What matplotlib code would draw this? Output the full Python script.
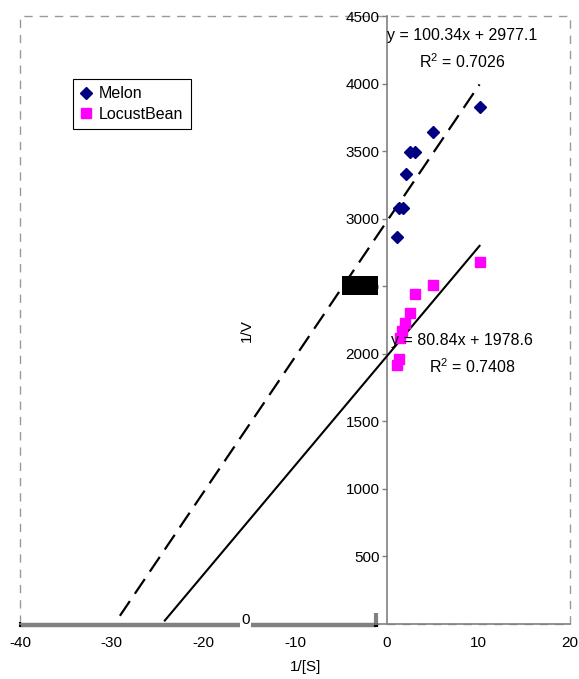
import matplotlib.pyplot as plt
from matplotlib.patches import Rectangle

plt.rcParams["font.family"] = ["Liberation Sans", "DejaVu Sans"]
plt.rcParams["mathtext.fontset"] = "custom"
plt.rcParams["mathtext.rm"] = "Liberation Sans"
plt.rcParams["axes.unicode_minus"] = False

# Lineweaver-Burk data (1/[S] vs 1/V)
melon_x = [1.14, 1.36, 1.83, 2.09, 2.55, 3.07, 5.09, 10.13]
melon_y = [2861, 3080, 3080, 3327, 3490, 3490, 3643, 3826]
locust_x = [1.17, 1.33, 1.43, 1.68, 2.04, 2.52, 3.07, 5.05, 10.13]
locust_y = [1915, 1957, 2113, 2169, 2228, 2298, 2439, 2507, 2676]

# fitted trendlines and their x range (with backward forecast)
melon_fit = (100.34, 2977.1, 0.7026)
locust_fit = (80.84, 1978.6, 0.7408)
melon_range = (-29.1, 10.13)
locust_range = (-24.2, 10.13)

x_ticks = [-40, -30, -20, -10, 0, 10, 20]
y_ticks = [500, 1000, 1500, 2000, 2500, 3000, 3500, 4000, 4500]

fig = plt.figure(figsize=(5.79, 6.79), dpi=100)
ax = fig.add_axes([0.0345, 0.0817, 0.9500, 0.8947])
ax.set_xlim(-40, 20)
ax.set_ylim(0, 4500)

grey = "#808080"
ax.spines["top"].set_visible(False)
ax.spines["right"].set_visible(False)
ax.spines["left"].set_position(("data", 0))
ax.spines["left"].set_color(grey)
ax.spines["bottom"].set_color(grey)
for s in ("left", "bottom"):
    ax.spines[s].set_linewidth(1.2)

ax.set_xticks(x_ticks)
ax.set_yticks(y_ticks)
ax.tick_params(axis="x", length=0, pad=9, labelsize=11)
ax.tick_params(axis="y", length=3.6, width=1, color=grey, pad=1.5, labelsize=11)

# dashed plot-area border
border = Rectangle((0, 0), 1, 1, transform=ax.transAxes, fill=False,
                   edgecolor="#999999", lw=1, linestyle=(0, (6, 5)),
                   clip_on=False, zorder=0)
ax.add_patch(border)

ax.plot(melon_x, melon_y, "D", color="#000080", markersize=6,
        label="Melon", zorder=4)
ax.plot(locust_x, locust_y, "s", color="#FF00FF", markersize=6.5,
        label="LocustBean", zorder=4)

m, b, r2 = melon_fit
xs = list(melon_range)
ax.plot(xs, [m * x + b for x in xs], color="black", lw=1.6,
        dashes=(8, 4), zorder=3)
m, b, r2 = locust_fit
xs = list(locust_range)
ax.plot(xs, [m * x + b for x in xs], color="black", lw=1.5, zorder=3)

ax.text(0.0, 4359, f"y = {melon_fit[0]:.2f}x + {melon_fit[1]:.1f}",
        ha="left", va="center", fontsize=11.5, zorder=6)
ax.text(8.3, 4159, f"R$^2$ = {melon_fit[2]:.4f}",
        ha="center", va="center", fontsize=11.5, zorder=6)
ax.text(0.5, 2100, f"y = {locust_fit[0]:.2f}x + {locust_fit[1]:.1f}",
        ha="left", va="center", fontsize=11.5, zorder=6)
ax.text(9.4, 1900, f"R$^2$ = {locust_fit[2]:.4f}",
        ha="center", va="center", fontsize=11.5, zorder=6)

# grey bar along the negative x axis
ax.plot([-40, -1.2], [-12, -12], color=grey, lw=3.2, solid_capstyle="butt",
        clip_on=False, zorder=2)
ax.plot([-1.2, -1.2], [-25, 78], color=grey, lw=3, solid_capstyle="butt",
        clip_on=False, zorder=2)
ax.plot([-1.2, -1.2], [-25, 5], color="black", lw=3, solid_capstyle="butt",
        clip_on=False, zorder=2)
ax.plot([-40, -40], [-25, 10], color="black", lw=1.5, solid_capstyle="butt",
        clip_on=False, zorder=2)
ax.text(-15.4, 25, "0", ha="center", va="center", fontsize=11,
        bbox=dict(facecolor="white", edgecolor="none", pad=0.5), zorder=5)

ax.add_patch(Rectangle((-4.84, 2433), 3.92, 141, facecolor="black",
                       edgecolor="none", zorder=6))

ax.set_xlabel("1/[S]", fontsize=11)
ax.xaxis.set_label_coords(0.52, -0.06)
ax.set_ylabel("1/V", fontsize=11)
ax.yaxis.set_label_coords(0.426, 0.483)

leg = ax.legend(loc="upper left", bbox_to_anchor=(0.096, 0.896),
                borderaxespad=0, fancybox=False, framealpha=1,
                fontsize=11.5, handlelength=0.8, handletextpad=0.4,
                borderpad=0.45, labelspacing=0.35)
leg.get_frame().set_edgecolor("black")
leg.get_frame().set_linewidth(0.8)

fig.savefig("out.png", dpi=100)
